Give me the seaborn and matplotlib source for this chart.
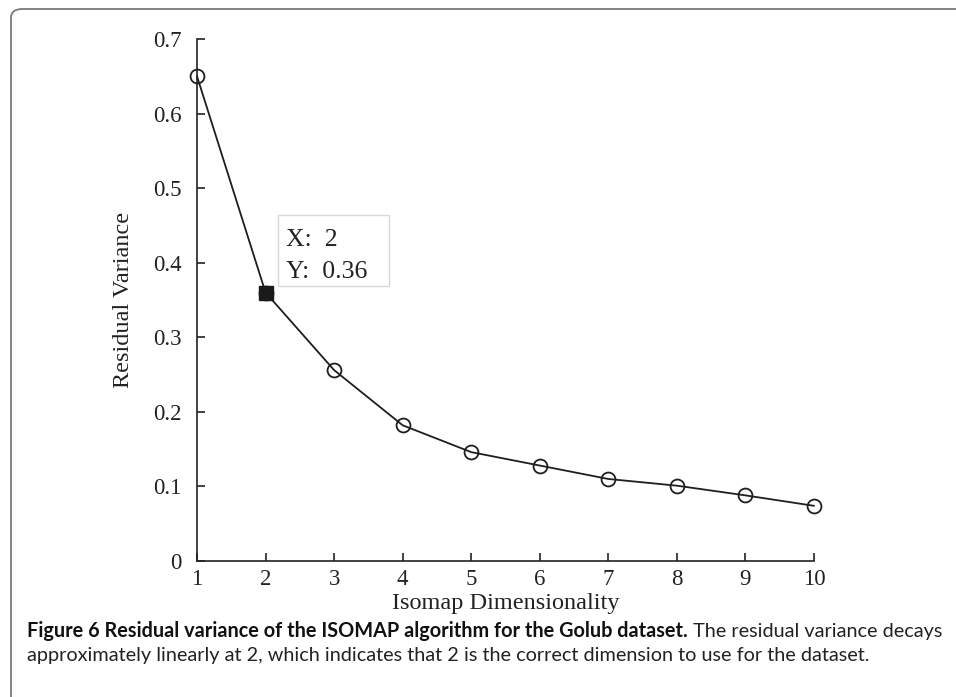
import matplotlib
matplotlib.use("Agg")
import matplotlib.pyplot as plt
import seaborn as sns
import pandas as pd
from matplotlib.patches import FancyBboxPatch, Rectangle

dims = [1, 2, 3, 4, 5, 6, 7, 8, 9, 10]
resid = [0.65, 0.36, 0.256, 0.182, 0.146, 0.128, 0.110, 0.101, 0.088, 0.074]
yticks = [0, 0.1, 0.2, 0.3, 0.4, 0.5, 0.6, 0.7]
ytick_labels = ["0", "0.1", "0.2", "0.3", "0.4", "0.5", "0.6", "0.7"]
tip_x = 2
tip_y = 0.36
caption_bold = "Figure 6 Residual variance of the ISOMAP algorithm for the Golub dataset."
caption_rest1 = " The residual variance decays"
caption_line2 = "approximately linearly at 2, which indicates that 2 is the correct dimension to use for the dataset."

sns.set_theme(style="ticks")
plt.rcParams["font.family"] = ["Liberation Serif", "DejaVu Serif"]

df = pd.DataFrame({"dim": dims, "rv": resid})

fig = plt.figure(figsize=(9.56, 6.97), dpi=100)
fig.patch.set_facecolor("white")

# frame around figure (open at right/bottom)
frame = FancyBboxPatch((11 / 956, -0.1), 1.2, 1 - 9 / 697 + 0.1,
                       boxstyle="round,pad=0,rounding_size=0.012",
                       transform=fig.transFigure, facecolor="none",
                       edgecolor="#7a7a7a", linewidth=1.3, clip_on=False)
fig.patches.append(frame)

ax = fig.add_axes([197 / 956, 1 - 561 / 697, (814 - 197) / 956, (561 - 39) / 697])
ax.set_facecolor("white")

sns.lineplot(data=df, x="dim", y="rv", ax=ax, color="#1e1e1e", linewidth=1.3,
             marker="o", markersize=10, markerfacecolor="none",
             markeredgecolor="#1e1e1e", markeredgewidth=1.3, zorder=3,
             clip_on=False)
ax.plot([tip_x], [tip_y], marker="s", markersize=10, color="#1a1a1a",
        linestyle="none", zorder=5, clip_on=False)

ax.set_xlim(1, 10)
ax.set_ylim(0, 0.7)
ax.set_xticks(dims)
ax.set_xticklabels([str(d) for d in dims])
ax.set_yticks(yticks)
ax.set_yticklabels(ytick_labels)
for s in ["top", "right"]:
    ax.spines[s].set_visible(False)
for s in ["left", "bottom"]:
    ax.spines[s].set_color("#222222")
    ax.spines[s].set_linewidth(1.2)
ax.tick_params(direction="in", length=6, width=1.2, color="#222222",
               labelsize=16.5, labelcolor="#222222")
ax.tick_params(axis="x", pad=6)
ax.tick_params(axis="y", pad=11)
ax.set_xlabel("Isomap Dimensionality", fontsize=17.5, color="#222222", labelpad=2)
ax.set_ylabel("Residual Variance", fontsize=17.5, color="#222222", labelpad=14)

# data tip box
box = Rectangle((2.177, 0.369), 3.80 - 2.177, 0.464 - 0.369, transform=ax.transData,
                facecolor="white", edgecolor="#d8d8d8", linewidth=1.0, zorder=4)
ax.add_patch(box)
ax.text(2.30, 0.431, f"X:  {tip_x}", fontsize=18.5, color="#222222", va="center",
        ha="left", zorder=6)
ax.text(2.30, 0.388, f"Y:  {tip_y}", fontsize=18.5, color="#222222", va="center",
        ha="left", zorder=6)

# caption
cap_font = ["Lato", "DejaVu Sans"]
t1 = fig.text(27 / 956, 1 - 631 / 697, caption_bold, fontsize=14.3, fontweight="bold",
              family=cap_font, color="#111111", va="center", ha="left")
fig.canvas.draw()
r = fig.canvas.get_renderer()
bb = t1.get_window_extent(renderer=r)
fig.text(bb.x1 / 956, 1 - 631 / 697, caption_rest1, fontsize=14.3,
         family=cap_font, color="#222222", va="center", ha="left")
fig.text(27 / 956, 1 - 656 / 697, caption_line2, fontsize=14.3,
         family=cap_font, color="#222222", va="center", ha="left")

fig.savefig("out.png", dpi=100, facecolor="white")
